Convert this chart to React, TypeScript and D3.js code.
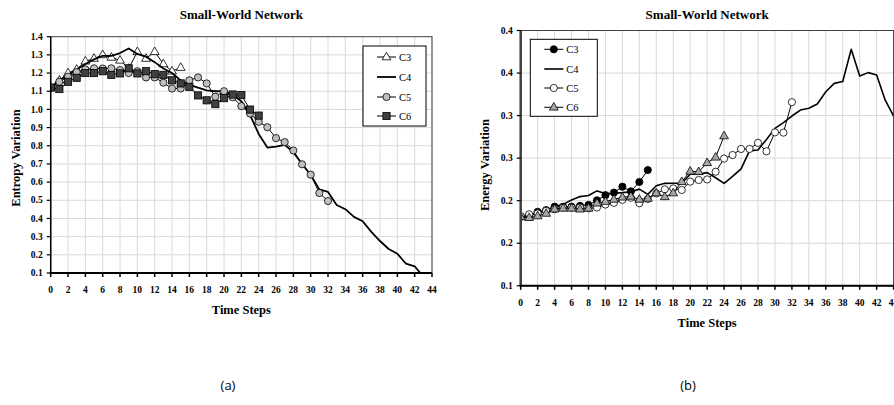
import React from "react";
import * as d3 from "d3";

// ---------- Data: (a) Entropy ----------
const entC3 = [1.12, 1.16, 1.2, 1.22, 1.265, 1.28, 1.3, 1.286, 1.27, 1.225, 1.317, 1.28, 1.317, 1.25, 1.21, 1.23];
const entC4 = [1.12, 1.16, 1.19, 1.22, 1.25, 1.275, 1.295, 1.295, 1.31, 1.335, 1.305, 1.29, 1.26, 1.225, 1.2, 1.16, 1.135, 1.12, 1.105, 1.1, 1.1, 1.08, 1.045, 0.97, 0.865, 0.79, 0.795, 0.805, 0.765, 0.7, 0.64, 0.56, 0.546, 0.474, 0.451, 0.409, 0.385, 0.326, 0.276, 0.232, 0.206, 0.151, 0.137, 0.08];
const entC5 = [1.12, 1.152, 1.18, 1.205, 1.22, 1.226, 1.225, 1.226, 1.216, 1.2, 1.21, 1.176, 1.176, 1.147, 1.115, 1.115, 1.16, 1.176, 1.143, 1.07, 1.1, 1.067, 1.018, 0.977, 0.932, 0.902, 0.842, 0.82, 0.774, 0.698, 0.641, 0.54, 0.496];
const entC6 = [1.12, 1.112, 1.152, 1.174, 1.2, 1.2, 1.21, 1.19, 1.198, 1.226, 1.198, 1.21, 1.194, 1.19, 1.16, 1.143, 1.124, 1.077, 1.05, 1.029, 1.062, 1.082, 1.079, 0.999, 0.966];
const entYTicks = [0.1, 0.2, 0.3, 0.4, 0.5, 0.6, 0.7, 0.8, 0.9, 1.0, 1.1, 1.2, 1.3, 1.4];

// ---------- Data: (b) Energy ----------
const enC3 = [0.181, 0.183, 0.187, 0.189, 0.193, 0.193, 0.193, 0.194, 0.195, 0.2005, 0.2065, 0.2095, 0.2165, 0.211, 0.222, 0.236];
const enC4 = [0.18, 0.183, 0.185, 0.189, 0.193, 0.1957, 0.2008, 0.2048, 0.2062, 0.2115, 0.2085, 0.2088, 0.2095, 0.2106, 0.2136, 0.2075, 0.2175, 0.2204, 0.2205, 0.2205, 0.231, 0.231, 0.233, 0.227, 0.2204, 0.2285, 0.2375, 0.2585, 0.2595, 0.272, 0.285, 0.2917, 0.2995, 0.3065, 0.3086, 0.3136, 0.328, 0.3379, 0.34, 0.378, 0.3466, 0.3505, 0.3477, 0.3184, 0.2995];
const enC5 = [0.182, 0.184, 0.185, 0.188, 0.19, 0.192, 0.192, 0.192, 0.191, 0.192, 0.1955, 0.1975, 0.201, 0.2035, 0.197, 0.202, 0.2086, 0.2134, 0.2145, 0.2126, 0.2224, 0.2243, 0.225, 0.234, 0.2495, 0.2537, 0.2608, 0.2608, 0.268, 0.258, 0.2803, 0.28, 0.3158];
const enC6 = [0.181, 0.18, 0.182, 0.185, 0.19, 0.191, 0.191, 0.19, 0.191, 0.197, 0.199, 0.2015, 0.204, 0.205, 0.2015, 0.2027, 0.209, 0.2045, 0.209, 0.2223, 0.2345, 0.234, 0.2445, 0.251, 0.276];
const enYTicks = [0.1, 0.15, 0.2, 0.25, 0.3, 0.35, 0.4];
const enYLabels = ["0.1", "0.2", "0.2", "0.3", "0.3", "0.4", "0.4"];

const xTicks = d3.range(0, 45, 2);
const seriesNames = ["C3", "C4", "C5", "C6"];

const SERIF = "Liberation Serif, Times New Roman, serif";
const GRID = "#d9d9d9";

type MarkerKind = "triangle" | "circle" | "square" | "none";

function Marker({ kind, x, y, fill }: { kind: MarkerKind; x: number; y: number; fill: string }) {
  if (kind === "circle") return <circle cx={x} cy={y} r={3.6} fill={fill} stroke="#000" strokeWidth={0.8} />;
  if (kind === "square") return <rect x={x - 3.6} y={y - 3.6} width={7.2} height={7.2} fill={fill} stroke="#000" strokeWidth={0.8} />;
  if (kind === "triangle")
    return <path d={`M${x},${y - 4.8} L${x + 4.4},${y + 2.8} L${x - 4.4},${y + 2.8} Z`} fill={fill} stroke="#000" strokeWidth={0.8} />;
  return null;
}

type Series = { name: string; values: number[]; marker: MarkerKind; fill: string; width: number };

function Chart(props: {
  x0: number; x1: number; y0: number; y1: number;
  yDomain: [number, number]; yTicks: number[]; yLabels: string[];
  series: Series[]; yTitle: string; title: string;
  legend: { x: number; y: number; w: number; h: number; rows: number[] };
  xLabelY: number; xTitleY: number; yTitleX: number; yTitleY: number; yAxisWidth: number; yAxisColor: string;
  clipId: string; gridY: number[];
}) {
  const { x0, x1, y0, y1 } = props;
  const x = d3.scaleLinear().domain([0, 44]).range([x0, x1]);
  const y = d3.scaleLinear().domain(props.yDomain).range([y1, y0]);
  const line = d3.line<number>().x((_, i) => x(i)).y((d) => y(d));
  const cx = (x0 + x1) / 2;
  const L = props.legend;
  return (
    <g>
      <defs>
        <clipPath id={props.clipId}>
          <rect x={x0} y={y0} width={x1 - x0} height={y1 - y0} />
        </clipPath>
      </defs>
      {xTicks.slice(1).map((t) => (
        <line key={"gx" + t} x1={x(t)} x2={x(t)} y1={y0} y2={y1} stroke={GRID} strokeWidth={1} />
      ))}
      {props.gridY.map((v) => (
        <line key={"gy" + v} x1={x0} x2={x1} y1={y(v)} y2={y(v)} stroke={GRID} strokeWidth={1} />
      ))}
      <rect x={x0} y={y0} width={x1 - x0} height={y1 - y0} fill="none" stroke="#404040" strokeWidth={1} />
      <g clipPath={`url(#${props.clipId})`}>
        {props.series.map((s) => (
          <g key={s.name}>
            <path d={line(s.values) || ""} fill="none" stroke="#000" strokeWidth={s.width} strokeLinejoin="round" />
            {s.values.map((v, i) => (
              <Marker key={i} kind={s.marker} x={x(i)} y={y(v)} fill={s.fill} />
            ))}
          </g>
        ))}
      </g>
      {/* axes */}
      <line x1={x0} x2={x0} y1={y0} y2={y1} stroke={props.yAxisColor} strokeWidth={props.yAxisWidth} />
      <line x1={x0 - 1} x2={x1} y1={y1} y2={y1} stroke="#000" strokeWidth={2} />
      {xTicks.map((t) => (
        <line key={"tx" + t} x1={x(t)} x2={x(t)} y1={y1} y2={y1 + 4} stroke="#000" strokeWidth={1.5} />
      ))}
      {props.yTicks.map((v) => (
        <line key={"ty" + v} x1={x0 - 4} x2={x0} y1={y(v)} y2={y(v)} stroke="#000" strokeWidth={1.2} />
      ))}
      {xTicks.map((t) => (
        <text key={"lx" + t} x={x(t)} y={props.xLabelY} textAnchor="middle" fontFamily={SERIF} fontWeight="bold" fontSize={9.5}>
          {t}
        </text>
      ))}
      {props.yTicks.map((v, i) => (
        <text key={"ly" + v} x={x0 - 8} y={y(v) + 3.2} textAnchor="end" fontFamily={SERIF} fontWeight="bold" fontSize={9.5}>
          {props.yLabels[i]}
        </text>
      ))}
      <text x={cx} y={19} textAnchor="middle" fontFamily={SERIF} fontWeight="bold" fontSize={13}>
        {props.title}
      </text>
      <text x={cx} y={props.xTitleY} textAnchor="middle" fontFamily={SERIF} fontWeight="bold" fontSize={12.5}>
        Time Steps
      </text>
      <text
        transform={`translate(${props.yTitleX},${props.yTitleY}) rotate(-90)`}
        textAnchor="middle"
        fontFamily={SERIF}
        fontWeight="bold"
        fontSize={12.5}
      >
        {props.yTitle}
      </text>
      {/* legend */}
      <rect x={L.x} y={L.y} width={L.w} height={L.h} fill="#fff" stroke="#000" strokeWidth={1} />
      {props.series.map((s, i) => {
        const ry = L.rows[i];
        const lx0 = L.x + 14;
        const lx1 = L.x + 33;
        return (
          <g key={"lg" + s.name}>
            <line x1={lx0} x2={lx1} y1={ry} y2={ry} stroke="#000" strokeWidth={s.width} />
            <Marker kind={s.marker} x={(lx0 + lx1) / 2} y={ry} fill={s.fill} />
            <text x={lx1 + 3} y={ry + 3.5} fontFamily={SERIF} fontSize={10.5}>
              {s.name}
            </text>
          </g>
        );
      })}
    </g>
  );
}

export default function App() {
  const leftSeries: Series[] = [
    { name: seriesNames[0], values: entC3, marker: "triangle", fill: "#fff", width: 1 },
    { name: seriesNames[1], values: entC4, marker: "none", fill: "none", width: 1.8 },
    { name: seriesNames[2], values: entC5, marker: "circle", fill: "#bfbfbf", width: 1 },
    { name: seriesNames[3], values: entC6, marker: "square", fill: "#404040", width: 1 },
  ];
  const rightSeries: Series[] = [
    { name: seriesNames[0], values: enC3, marker: "circle", fill: "#000", width: 1 },
    { name: seriesNames[1], values: enC4, marker: "none", fill: "none", width: 1.6 },
    { name: seriesNames[2], values: enC5, marker: "circle", fill: "#fff", width: 1 },
    { name: seriesNames[3], values: enC6, marker: "triangle", fill: "#a6a6a6", width: 1 },
  ];
  return (
    <svg width={894} height={405} style={{ position: "absolute", left: 0, top: 0, background: "#fff" }}>
      <rect width={894} height={405} fill="#fff" />
      <Chart
        x0={50.7} x1={432} y0={36.7} y1={273}
        yDomain={[0.1, 1.4]} yTicks={entYTicks} yLabels={entYTicks.map((v) => v.toFixed(1))}
        gridY={entYTicks.slice(1, -1)}
        series={leftSeries} yTitle="Entropy Variation" title="Small-World Network"
        legend={{ x: 363, y: 46, w: 63, h: 80, rows: [57, 77, 97, 116] }}
        xLabelY={293} xTitleY={314} yTitleX={20} yTitleY={158} yAxisWidth={1.5} yAxisColor="#000" clipId="clipA"
      />
      <Chart
        x0={520.7} x1={893.6} y0={30.5} y1={285.8}
        yDomain={[0.1, 0.4]} yTicks={enYTicks} yLabels={enYLabels}
        gridY={enYTicks.slice(1, -1)}
        series={rightSeries} yTitle="Energy Variation" title="Small-World Network"
        legend={{ x: 530.3, y: 39.3, w: 67, h: 77, rows: [49.3, 69, 88, 107.3] }}
        xLabelY={306} xTitleY={327} yTitleX={489} yTitleY={165} yAxisWidth={2.5} yAxisColor="#404040" clipId="clipB"
      />
      <text x={228} y={390} textAnchor="middle" fontFamily="Open Sans, sans-serif" fontSize={13}>
        (a)
      </text>
      <text x={688} y={390} textAnchor="middle" fontFamily="Open Sans, sans-serif" fontSize={13}>
        (b)
      </text>
    </svg>
  );
}
